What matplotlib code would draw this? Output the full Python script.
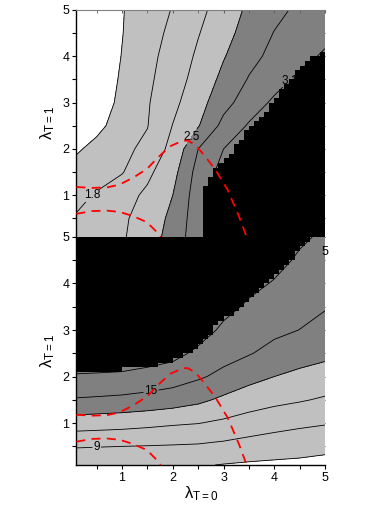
import numpy as np
import matplotlib
matplotlib.use("Agg")
from matplotlib import pyplot as plt
from matplotlib.path import Path
from matplotlib.colors import ListedColormap

plt.rcParams['font.family'] = ['Liberation Sans', 'DejaVu Sans']
plt.rcParams['mathtext.fontset'] = 'custom'
plt.rcParams['mathtext.rm'] = 'Liberation Sans'
plt.rcParams['mathtext.it'] = 'Liberation Sans'

# grid of lambda_T=0 (x) and lambda_T=1 (y)
lam0 = [0.1, 0.5, 1.0, 1.5, 2.0, 2.5, 3.0, 3.5, 4.0, 4.5, 5.0]
lam1 = [0.1, 0.5, 1.0, 1.5, 2.0, 2.5, 3.0, 3.5, 4.0, 4.5, 5.0]

# upper map, one row per lam1 value
z_top = [
    [1.84, 1.96, 2.11, 2.35, 2.62, 2.98, 3.30, 3.60, 3.90, 4.20, 4.50],
    [1.82, 1.94, 2.09, 2.31, 2.58, 2.97, 3.30, 3.60, 3.90, 4.20, 4.50],
    [1.74, 1.82, 2.01, 2.22, 2.50, 2.96, 3.30, 3.60, 3.90, 4.20, 4.50],
    [1.66, 1.71, 1.78, 2.07, 2.40, 2.91, 3.20, 3.50, 3.80, 4.10, 4.40],
    [1.58, 1.645, 1.73, 1.87, 2.27, 2.80, 3.10, 3.40, 3.70, 4.00, 4.30],
    [1.47, 1.56, 1.67, 1.79, 2.16, 2.48, 2.89, 3.13, 3.37, 3.60, 3.84],
    [1.40, 1.51, 1.64, 1.77, 2.06, 2.38, 2.70, 2.95, 3.15, 3.36, 3.56],
    [1.40, 1.50, 1.62, 1.74, 1.97, 2.29, 2.58, 2.82, 2.99, 3.16, 3.33],
    [1.39, 1.49, 1.605, 1.72, 1.91, 2.21, 2.48, 2.71, 2.88, 3.01, 3.14],
    [1.39, 1.48, 1.595, 1.71, 1.85, 2.13, 2.40, 2.62, 2.81, 2.91, 3.02],
    [1.39, 1.48, 1.59, 1.70, 1.81, 2.05, 2.32, 2.56, 2.72, 2.86, 2.97],
]
top_lines = [1.6, 2.15, 2.8]
top_fill = [0, 1.6, 2.5, 10]
top_labels = [1.8, 2.5, 3.1]

# lower map
z_bot = [
    [7.79, 7.72, 7.67, 7.53, 7.37, 7.16, 6.92, 6.75, 6.64, 6.54, 6.31],
    [9.11, 9.06, 9.00, 8.93, 8.85, 8.76, 8.52, 8.20, 7.95, 7.77, 7.56],
    [12.0, 11.88, 11.73, 11.5, 11.24, 11.05, 10.65, 10.14, 9.71, 9.37, 9.13],
    [14.83, 14.72, 14.57, 14.33, 13.98, 13.43, 12.62, 11.97, 11.51, 11.17, 10.77],
    [16.81, 16.76, 16.62, 16.3, 15.93, 15.26, 14.51, 13.62, 13.0, 12.56, 12.23],
    [18.4, 18.3, 18.4, 18.05, 17.6, 16.58, 15.69, 15.13, 14.39, 13.8, 13.42],
    [19.9, 19.8, 19.9, 19.6, 19.2, 17.9, 16.63, 15.92, 15.41, 14.98, 14.34],
    [21.4, 21.3, 21.4, 21.1, 20.8, 19.2, 17.57, 16.71, 16.13, 15.57, 15.14],
    [22.9, 22.8, 22.9, 22.6, 22.4, 20.5, 18.5, 17.5, 16.86, 16.15, 15.66],
    [24.4, 24.3, 24.4, 24.1, 24.0, 21.8, 19.4, 18.3, 17.58, 16.73, 16.18],
    [25.9, 25.8, 25.9, 25.6, 25.6, 23.1, 20.3, 19.1, 18.3, 17.31, 16.69],
]
bot_lines = [7, 11, 13, 17]
bot_fill = [0, 7, 13, 100]
bot_labels = [9, 15]

# black (out of range) zones, boundary
top_black_x = [2.64, 2.64, 2.74, 2.93, 3.13, 3.3, 3.52, 3.85, 4.12, 4.44, 4.77, 5.0]
top_black_y = [0.0, 1.17, 1.42, 1.7, 1.9, 2.15, 2.45, 2.8, 3.25, 3.65, 4.0, 4.14]
bot_black_x = [0.1, 0.96, 0.97, 1.68, 2.14, 2.47, 2.83, 3.23, 3.62, 4.25, 4.61, 4.77]
bot_black_y = [2.05, 2.07, 2.14, 2.23, 2.43, 2.6, 3.05, 3.42, 3.81, 4.43, 4.86, 5.0]

# red dashed curves (same on both maps)
outer_x = [0.1, 0.4, 0.7, 0.95, 1.25, 1.5, 1.72, 1.95, 2.2, 2.3, 2.45, 2.57, 2.83, 3.08, 3.3, 3.45]
outer_y = [1.18, 1.16, 1.17, 1.23, 1.40, 1.58, 1.83, 2.06, 2.18, 2.18, 2.08, 1.93, 1.57, 1.12, 0.56, 0.12]
inner_x = [0.1, 0.4, 0.7, 0.96, 1.22, 1.49, 1.72, 1.76]
inner_y = [0.60, 0.66, 0.67, 0.64, 0.55, 0.42, 0.17, 0.1]

FILLS = ['white', '#c0c0c0', '#808080']


def black_zone(ax, poly):
    ex = np.linspace(0.1, 5.0, 50)
    ey = np.linspace(0.1, 5.0, 50)
    cx = (ex[:-1] + ex[1:]) / 2
    cy = (ey[:-1] + ey[1:]) / 2
    gx, gy = np.meshgrid(cx, cy)
    inside = Path(poly).contains_points(np.column_stack([gx.ravel(), gy.ravel()]))
    inside = inside.reshape(gx.shape)
    ax.pcolormesh(ex, ey, np.ma.masked_where(~inside, inside.astype(float)),
                  cmap=ListedColormap(['black']), antialiased=False,
                  edgecolors='none', zorder=3)


def draw_map(ax, z, fills, lines, labels, label_pos, poly):
    ax.contourf(lam0, lam1, z, levels=fills, colors=FILLS)
    ax.contour(lam0, lam1, z, levels=lines, colors='black', linewidths=0.6)
    cs = ax.contour(lam0, lam1, z, levels=labels, colors='black', linewidths=0.6)
    txts = ax.clabel(cs, manual=label_pos, fmt='%g', fontsize=8.5,
                     inline=True, inline_spacing=1, colors='black')
    for t in txts:
        t.set_rotation(0)
        t.set_zorder(2.5)  # black zone may cover a label
    black_zone(ax, poly)
    ax.plot(outer_x, outer_y, color='red', lw=1.3, ls=(0, (5, 3.5)), zorder=5)
    ax.plot(inner_x, inner_y, color='red', lw=1.3, ls=(0, (5, 3.5)), zorder=5)
    ax.set_xlim(0.1, 5.0)
    ax.set_ylim(0.1, 5.0)
    ax.set_yticks([1, 2, 3, 4, 5])
    ax.set_yticks(np.arange(0.5, 5.0, 0.5), minor=True)
    ax.set_xticks([1, 2, 3, 4, 5])
    ax.set_xticks(np.arange(0.5, 5.0, 0.5), minor=True)
    ax.spines['right'].set_visible(False)
    ax.spines['left'].set_linewidth(1.0)
    ax.tick_params(axis='y', which='both', direction='out', length=3, width=0.8,
                   labelsize=9, pad=2)
    ax.set_ylabel(r'$\lambda_{\mathrm{T=1}}$', fontsize=12, labelpad=4)
    # inward ticks on the right edge, no labels
    sec = ax.secondary_yaxis('right')
    sec.set_yticks([1, 2, 3, 4, 5])
    sec.set_yticks(np.arange(0.5, 5.0, 0.5), minor=True)
    sec.tick_params(which='both', direction='in', length=2.5, width=0.7,
                    color='#505050', labelright=False)
    sec.spines['right'].set_visible(False)


fig = plt.figure(figsize=(3.81, 5.20), dpi=100)
ax1 = fig.add_axes([0.2005, 0.5442, 0.6525, 0.4366])
ax2 = fig.add_axes([0.2005, 0.1058, 0.6525, 0.4385])

poly_top = list(zip(top_black_x, top_black_y)) + [(5.2, 4.14), (5.2, 0.0)]
draw_map(ax1, z_top, top_fill, top_lines, top_labels,
         [(0.43, 0.97), (2.31, 2.31), (4.36, 3.4)], poly_top)
ax1.spines['bottom'].set_visible(False)
ax1.spines['top'].set_color('#808080')
ax1.tick_params(axis='x', which='both', bottom=False, labelbottom=False,
                top=True, direction='in', length=2.5, color='#606060')

poly_bot = [(0.0, 2.05)] + list(zip(bot_black_x, bot_black_y)) + [(4.8, 5.2), (0.0, 5.2)]
draw_map(ax2, z_bot, bot_fill, bot_lines, bot_labels,
         [(0.5, 0.49), (1.58, 1.62)], poly_bot)
ax2.spines['top'].set_visible(False)
ax2.spines['bottom'].set_linewidth(1.0)
ax2.tick_params(axis='x', which='both', direction='out', length=3, width=0.8,
                labelsize=9, pad=2)
ax2.set_xlabel(r'$\lambda_{\mathrm{T=0}}$', fontsize=12, labelpad=0)
ax2.text(5.0, 4.68, '5', fontsize=9, ha='center', va='center', clip_on=False, zorder=6)

fig.savefig('out.png', dpi=100)
